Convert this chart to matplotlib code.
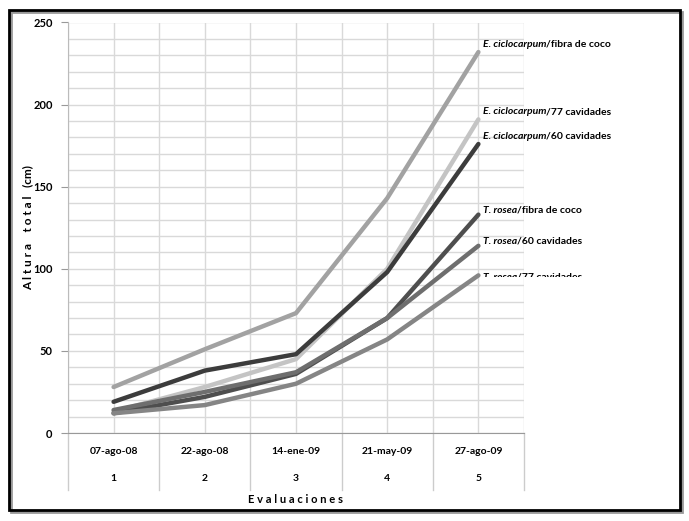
import matplotlib
matplotlib.use("Agg")
import matplotlib.pyplot as plt
from matplotlib.patches import Rectangle
from matplotlib.transforms import Bbox, blended_transform_factory

plt.rcParams['font.family'] = ['Lato', 'DejaVu Sans']

fechas = ["07-ago-08", "22-ago-08", "14-ene-09", "21-may-09", "27-ago-09"]
evaluaciones = ["1", "2", "3", "4", "5"]

especie = ["E. ciclocarpum", "E. ciclocarpum", "E. ciclocarpum",
           "T. rosea", "T. rosea", "T. rosea"]
sustrato = ["/fibra de coco", "/77 cavidades", "/60 cavidades",
            "/fibra de coco", "/60 cavidades", "/77 cavidades"]
e_fibra = [28, 51, 73, 143, 232]
e_77 = [13, 28, 45, 100, 191]
e_60 = [19, 38, 48, 98, 176]
t_fibra = [12, 22, 36, 70, 133]
t_60 = [14, 25, 37, 70, 114]
t_77 = [12, 17, 30, 57, 96]
series = [e_fibra, e_77, e_60, t_fibra, t_60, t_77]
colores = ["#a2a2a2", "#c4c4c4", "#3c3c3c", "#4e4e4e", "#6e6e6e", "#858585"]
# small vertical nudges for the end labels (in data units)
nudge = [2, 2, 2, 0, 0, -4]

W, H = 689, 521
fig = plt.figure(figsize=(W / 100, H / 100), dpi=100)
ax = fig.add_axes([68 / W, (H - 433) / H, (524 - 68) / W, (433 - 22.5) / H])

x = list(range(len(fechas)))
for s, c in zip(series, colores):
    ax.plot(x, s, color=c, lw=3.2, solid_capstyle='round', zorder=3)

ax.set_xlim(-0.5, 4.5)
ax.set_ylim(0, 250)
ax.set_yticks(range(0, 251, 50))
ax.set_yticks(range(0, 251, 10), minor=True)
ax.set_xticks([i - 0.5 for i in range(6)])
ax.set_xticks(x, minor=True)
ax.set_xticklabels([])
ax.tick_params(axis='x', which='both', length=0)
ax.tick_params(axis='y', which='major', length=5, color='#999999', labelsize=8, pad=6)
ax.tick_params(axis='y', which='minor', length=0)
for lab in ax.get_yticklabels():
    lab.set_fontweight('bold')
ax.grid(True, which='both', color='#d9d9d9', lw=1, zorder=0)
for sp in ['top', 'right']:
    ax.spines[sp].set_visible(False)
ax.spines['left'].set_color('#bbbbbb')
ax.spines['bottom'].set_color('#999999')

# category labels below the axis
tr = blended_transform_factory(ax.transData, ax.transAxes)
for i, (f, n) in enumerate(zip(fechas, evaluaciones)):
    ax.text(i, -0.045, f, transform=tr, ha='center', va='center', fontsize=7.5, fontweight='bold')
    ax.text(i, -0.11, n, transform=tr, ha='center', va='center', fontsize=7.5, fontweight='bold')
for b in range(6):
    ax.plot([b - 0.5, b - 0.5], [0, -0.138], transform=tr, color='#cccccc', lw=1, clip_on=False)

ax.text(0.5, -0.163, "E v a l u a c i o n e s", transform=ax.transAxes, ha='center', va='center',
        fontsize=8, fontweight='bold')
fig.text(28 / W, 1 - 228 / H, "A l t u r a    t o t a l   (cm)", rotation=90, ha='center', va='center',
         fontsize=8.5, fontweight='bold')

# end-of-line labels
clip = Bbox.from_extents(0, H - 277, W, H)
for k, (sp, su, s) in enumerate(zip(especie, sustrato, series)):
    t1 = ax.text(4.05, s[-1] + nudge[k], sp, ha='left', va='bottom', fontsize=7.5,
                 fontweight='bold', style='italic', zorder=4)
    t2 = ax.annotate(su, xy=(1, 0), xycoords=t1, ha='left', va='bottom', fontsize=7.5,
                     fontweight='bold', zorder=4, annotation_clip=False)
    if k == 5:
        for t in (t1, t2):
            t.set_clip_on(True)
            t.set_clip_box(clip)

# frame around the figure
fig.patches.append(Rectangle((11 / W, (H - 512) / H), 671 / W, 500 / H, transform=fig.transFigure,
                             fill=False, edgecolor='#999999', lw=2))
fig.patches.append(Rectangle((9 / W, (H - 510) / H), 671 / W, 500 / H, transform=fig.transFigure,
                             fill=False, edgecolor='black', lw=2))

fig.savefig("out.png", dpi=100)
